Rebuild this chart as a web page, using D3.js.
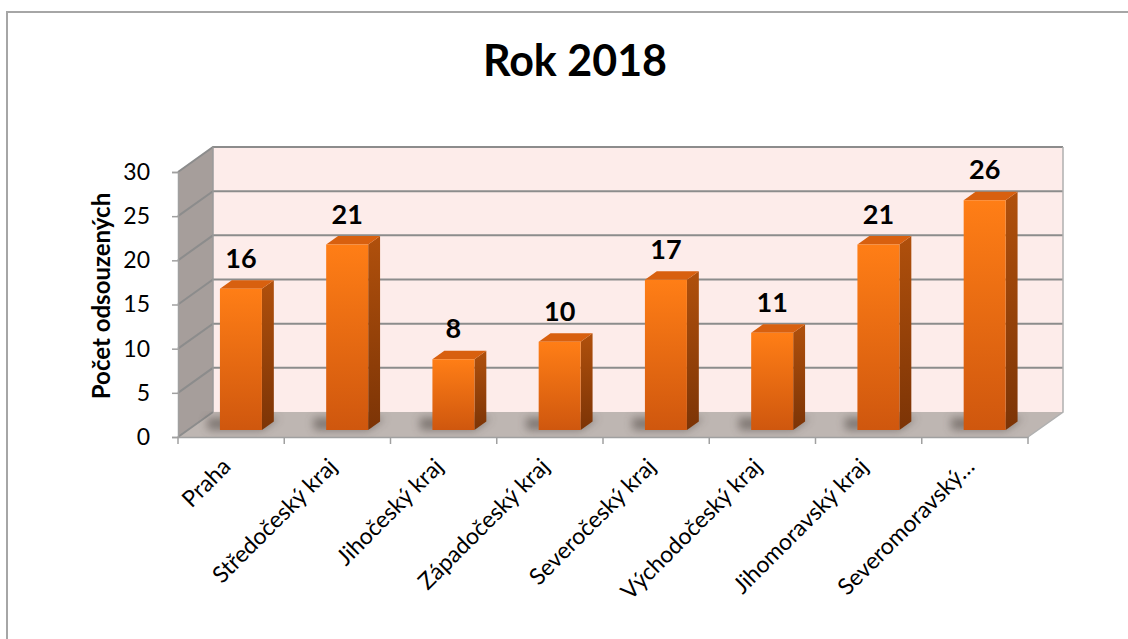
<!DOCTYPE html>
<html>
<head>
<meta charset="utf-8">
<script src="https://cdn.jsdelivr.net/npm/d3@7"></script>
<style>
  body { margin: 0; background: #fff; }
  svg { display: block; font-family: Lato, "Open Sans", sans-serif; }
</style>
</head>
<body>
<script>
// Chart data
const categories = ["Praha", "Středočeský kraj", "Jihočeský kraj", "Západočeský kraj",
  "Severočeský kraj", "Východočeský kraj", "Jihomoravský kraj", "Severomoravský…"];
const values = [16, 21, 8, 10, 17, 11, 21, 26];
const yTicks = [0, 5, 10, 15, 20, 25, 30];
const title = "Rok 2018";
const yTitle = "Počet odsouzených";

// Chart setup
const w = 1128;
const h = 639;
const plotLeft = 178, plotRight = 1028, plotBottom = 437, plotTop = 172;
const depthX = 35, depthY = -25;   // offset of back wall
const barD0 = 0.28, barD1 = 0.62;  // bar depth range
const barW = 42;

const svg = d3.select("body").append("svg")
  .attr("width", w)
  .attr("height", h);

const defs = svg.append("defs");
const grad = (id, c1, c2) => {
  const g = defs.append("linearGradient").attr("id", id)
    .attr("x1", 0).attr("y1", 0).attr("x2", 0).attr("y2", 1);
  g.append("stop").attr("offset", "0%").attr("stop-color", c1);
  g.append("stop").attr("offset", "100%").attr("stop-color", c2);
};
grad("front", "#ff7e16", "#cf570e");
grad("side", "#b0500c", "#7c3406");
defs.append("filter").attr("id", "blur")
  .attr("x", "-50%").attr("y", "-50%").attr("width", "200%").attr("height", "200%")
  .append("feGaussianBlur").attr("stdDeviation", 4);

// frame
svg.append("rect")
  .attr("x", 7).attr("y", 12).attr("width", 1300).attr("height", 800)
  .attr("fill", "none").attr("stroke", "#a6a6a6").attr("stroke-width", 2);

const x = d3.scaleBand().domain(categories).range([plotLeft, plotRight]);
const y = d3.scaleLinear().domain([0, 30]).range([plotBottom, plotTop]);

// project a point at a given depth (0 = front, 1 = back)
const P = (px, py, d) => [px + d * depthX, py + d * depthY];
const poly = pts => pts.map(p => p.join(",")).join(" ");

// walls
svg.append("polygon")
  .attr("points", poly([P(plotLeft, y(0), 0), P(plotLeft, y(30), 0), P(plotLeft, y(30), 1), P(plotLeft, y(0), 1)]))
  .attr("fill", "#a69e9b");
svg.append("polygon")
  .attr("points", poly([P(plotLeft, y(30), 1), P(plotRight, y(30), 1), P(plotRight, y(0), 1), P(plotLeft, y(0), 1)]))
  .attr("fill", "#fdecea");
svg.append("polygon")
  .attr("points", poly([P(plotLeft, y(0), 0), P(plotRight, y(0), 0), P(plotRight, y(0), 1), P(plotLeft, y(0), 1)]))
  .attr("fill", "#beb6b2");

// gridlines (back wall + left wall)
yTicks.forEach(t => {
  const b0 = P(plotLeft, y(t), 1), b1 = P(plotRight, y(t), 1), f = P(plotLeft, y(t), 0);
  svg.append("polyline")
    .attr("points", poly(t === 0 ? [f, b0] : [f, b0, b1]))
    .attr("fill", "none").attr("stroke", "#8c8c8c").attr("stroke-width", 2);
});
svg.append("line")
  .attr("x1", plotLeft + depthX).attr("x2", plotLeft + depthX)
  .attr("y1", y(30) + depthY).attr("y2", y(0) + depthY)
  .attr("stroke", "#9a9a9a").attr("stroke-width", 1.5);
svg.append("polyline")
  .attr("points", poly([P(plotRight, y(30), 1), P(plotRight, y(0), 1), P(plotRight, y(0), 0)]))
  .attr("fill", "none").attr("stroke", "#b0b0b0").attr("stroke-width", 1.5);

// axes
const yAxis = svg.append("g")
  .attr("transform", `translate(${plotLeft},0)`)
  .call(d3.axisLeft(y).tickValues(yTicks).tickSize(6).tickPadding(22));
const xAxis = svg.append("g")
  .attr("transform", `translate(0,${plotBottom})`)
  .call(d3.axisBottom(x).tickSize(0).tickFormat(""));
[yAxis, xAxis].forEach(g => {
  g.select(".domain").attr("stroke", "#a0a0a0").attr("stroke-width", 1.5);
  g.selectAll(".tick line").attr("stroke", "#a0a0a0").attr("stroke-width", 1.5);
});
yAxis.selectAll(".tick text")
  .attr("font-size", 23).attr("fill", "#000").attr("font-family", "Lato, sans-serif");
// x ticks at band edges
xAxis.selectAll(".edge")
  .data(d3.range(categories.length + 1))
  .join("line")
  .attr("x1", i => plotLeft + i * x.step()).attr("x2", i => plotLeft + i * x.step())
  .attr("y1", 0).attr("y2", 7)
  .attr("stroke", "#a0a0a0").attr("stroke-width", 1.5);

// category labels
svg.append("g").selectAll("text")
  .data(categories)
  .join("text")
  .attr("transform", d => `translate(${x(d) + x.bandwidth() / 2 + 1},${plotBottom + 31}) rotate(-45)`)
  .attr("text-anchor", "end")
  .attr("font-size", 23)
  .text(d => d);

// bars
const bars = svg.append("g").selectAll("g")
  .data(values.map((v, i) => ({ c: categories[i], v })))
  .join("g");

bars.each(function (d) {
  const g = d3.select(this);
  const x0 = x(d.c) + (x.bandwidth() - barW) / 2, x1 = x0 + barW;
  const yb = y(0), yt = y(d.v);
  // floor shadow
  g.append("polygon")
    .attr("points", poly([P(x0 - 30, yb, barD1 + 0.15), P(x1, yb, barD1 + 0.15), P(x1, yb, barD0), P(x0 - 12, yb, barD0)]))
    .attr("fill", "#4e4541").attr("opacity", 0.55).attr("filter", "url(#blur)");
  g.append("polygon")
    .attr("points", poly([P(x1, yt, barD0), P(x1, yt, barD1), P(x1, yb, barD1), P(x1, yb, barD0)]))
    .attr("fill", "url(#side)");
  g.append("polygon")
    .attr("points", poly([P(x0, yt, barD0), P(x0, yt, barD1), P(x1, yt, barD1), P(x1, yt, barD0)]))
    .attr("fill", "#d8600f");
  g.append("polygon")
    .attr("points", poly([P(x0, yt, barD0), P(x1, yt, barD0), P(x1, yb, barD0), P(x0, yb, barD0)]))
    .attr("fill", "url(#front)");
  const lp = P((x0 + x1) / 2, yt, barD0);
  g.append("text")
    .attr("x", lp[0]).attr("y", lp[1] - 21)
    .attr("text-anchor", "middle")
    .attr("font-size", 27).attr("font-weight", "bold")
    .text(d.v);
});

// titles
svg.append("text")
  .attr("x", 575).attr("y", 76)
  .attr("text-anchor", "middle")
  .attr("font-size", 43).attr("font-weight", "bold")
  .text(title);
svg.append("text")
  .attr("transform", "translate(110,296) rotate(-90)")
  .attr("text-anchor", "middle")
  .attr("font-size", 24).attr("font-weight", "bold")
  .text(yTitle);
</script>
</body>
</html>
